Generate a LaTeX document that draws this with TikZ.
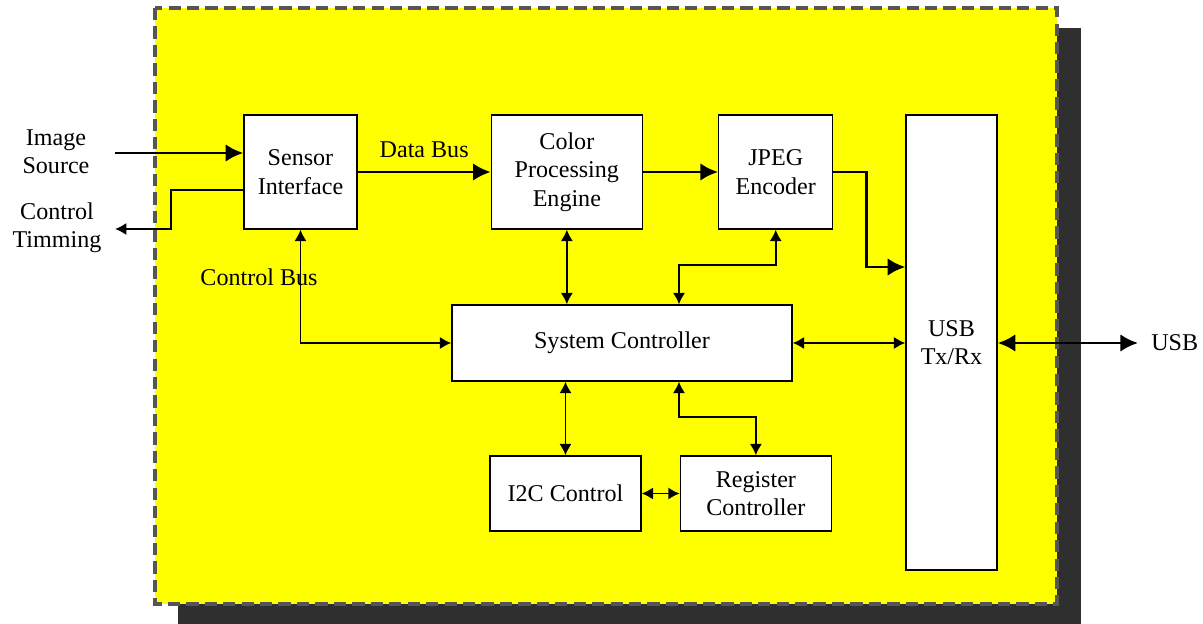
\documentclass[tikz,border=0pt]{standalone}
\usepackage{fontspec}
\setmainfont{Liberation Serif}
\usetikzlibrary{arrows.meta, positioning}

\definecolor{boardyellow}{RGB}{255,255,0}
\definecolor{shadowgray}{RGB}{47,47,47}
\definecolor{edgegray}{RGB}{85,85,85}

\begin{document}
\begin{tikzpicture}[x=0.02cm, y=-0.02cm,
    font=\fontsize{13.7}{16.2}\selectfont,
    block/.style={draw, fill=white, line width=0.8pt, align=center, inner sep=2pt},
    bus/.style={line width=1.7pt, -{Latex[length=10pt,width=10pt]}},
    ctl/.style={line width=1.1pt, -{Latex[length=6.5pt,width=7pt]}},
    dbl/.style={line width=1.1pt, {Latex[length=6.5pt,width=7pt]}-{Latex[length=6.5pt,width=7pt]}},
    dblbus/.style={line width=1.7pt, {Latex[length=10pt,width=10pt]}-{Latex[length=10pt,width=10pt]}}]

\useasboundingbox (0,0) rectangle (1203,624);

% board and its shadow
\fill[shadowgray] (178,28) rectangle (1081,624);
\draw[fill=boardyellow, draw=edgegray, line width=1.8pt,
    dash pattern=on 7pt off 3.5pt] (155,8) rectangle (1057,604);

\node[block,
    minimum width=2.26cm,
    minimum height=2.28cm
] (S) at (300.5,172) {Sensor\\Interface};

\node[block,
    right=2.66cm of S,
    minimum width=3.02cm,
    minimum height=2.28cm
] (C) {Color\\Processing\\Engine};

\node[block,
    right=1.5cm of C,
    minimum width=2.28cm,
    minimum height=2.28cm
] (J) {JPEG\\Encoder};

\node[block,
    minimum width=1.82cm,
    minimum height=9.1cm
] (U) at (951.5,342.5) {USB\\Tx/Rx};

\node[block,
    minimum width=6.8cm,
    minimum height=1.52cm
] (SC) at (622,343) {System Controller};

\node[block,
    minimum width=3.02cm,
    minimum height=1.5cm
] (I) at (565.5,493.5) {I2C Control};

\node[block,
    right=0.76cm of I,
    minimum width=3.02cm,
    minimum height=1.5cm
] (R) {Register\\Controller};

% outside signals
\coordinate (imgin) at (115,153);
\coordinate (ctlout) at (115,229);
\coordinate (usbout) at (1138,343);
\coordinate (jk) at (679,265);
\coordinate (rk) at (679,417);

\node[align=center] (imglbl) at (56,152) {Image\\Source};
\node[align=center] (ctllbl) at (57,228) {Control\\Timming};
\node (cbus) at (259,277) {Control Bus};
\node[right=4pt of usbout] (usblbl) {USB};

% Arrows
\draw[bus] (imgin) -- (imgin -| S.west);
\draw[ctl] (S.west |- 0,190) -| (171,229) -- (ctlout);
\draw[bus] (S) -- node[midway, above=4pt]{Data Bus} (C);
\draw[bus] (C) -- (J);
\draw[bus] (J.east) -| (866,267) -- (U.west |- 866,267);
\draw[dbl] (C.south) -- (C.south |- SC.north);
\draw[dbl] (J.south) |- (jk) -- (jk |- SC.north);
\draw[dbl] (S.south) |- (SC.west);
\draw[dbl] (SC.east) -- (U.west |- SC.east);
\draw[dbl] (I.north |- SC.south) -- (I.north);
\draw[dbl] (rk |- SC.south) -- (rk) -| (R.north);
\draw[dbl] (I) -- (R);
\draw[dblbus] (U.east |- SC.east) -- (usbout);
\end{tikzpicture}
\end{document}
